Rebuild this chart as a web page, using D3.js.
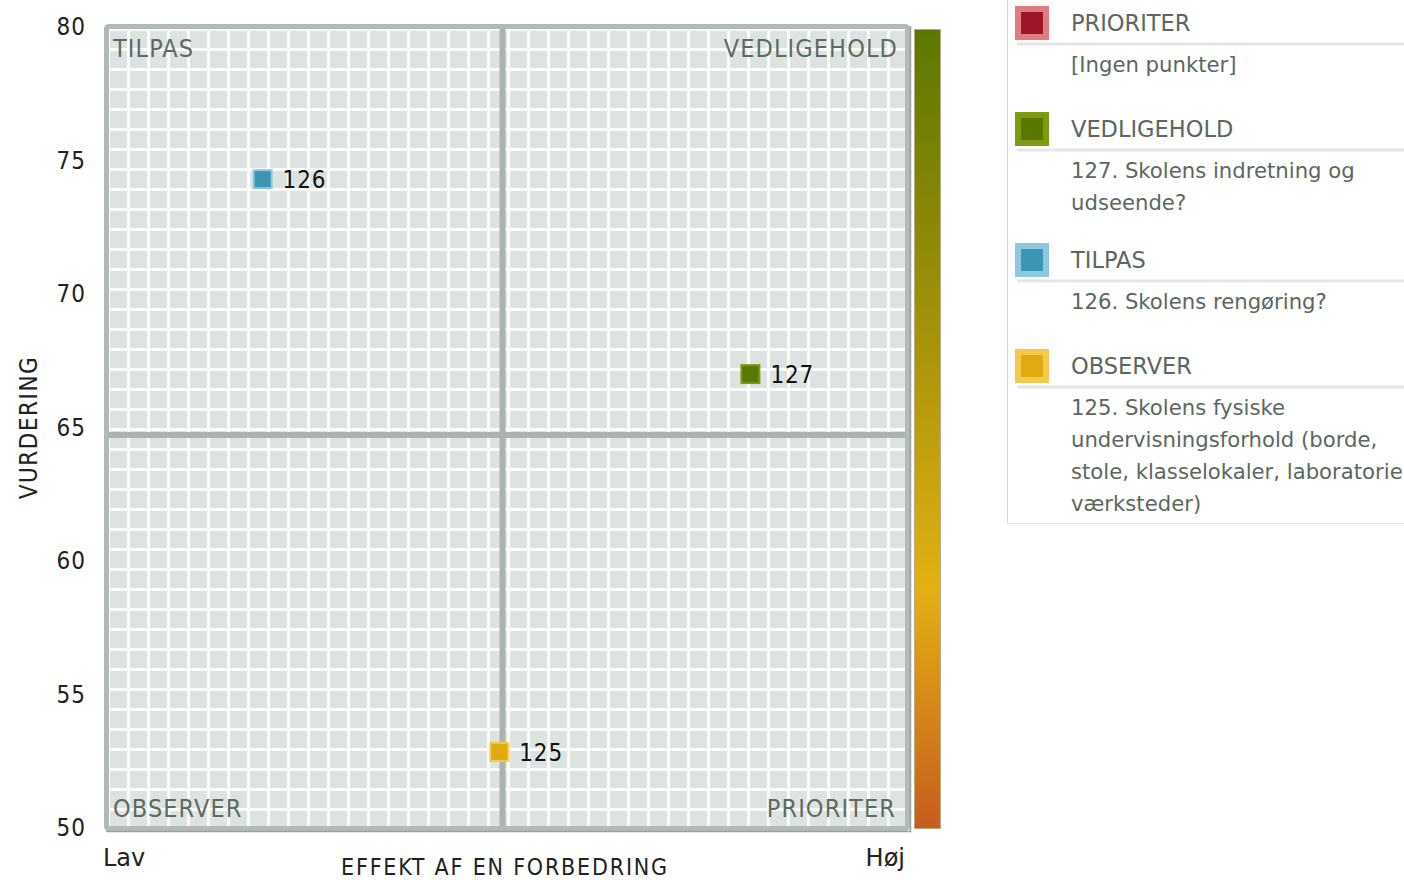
<!DOCTYPE html>
<html lang="da">
<meta charset="UTF-8">
<title>Prioriteringskort</title>
<script src="https://d3js.org/d3.v7.min.js"></script>
<style>
html, body { margin: 0; padding: 0; background: #fff; }
body { width: 1404px; height: 880px; overflow: hidden; }
text { font-family: "DejaVu Sans", Verdana, sans-serif; }
.pix { font-family: "DejaVu Sans Condensed", "DejaVu Sans", sans-serif; font-weight: 200; }
</style>
<body>
<div id="chart"></div>
<script>
// data
var yTicks = [50, 55, 60, 65, 70, 75, 80];
var pointIds = ["125", "126", "127"];
var pointEffekt = [49.1, 19.4, 80.6];
var pointVurdering = [52.85, 74.3, 67.0];
var pointGroup = ["OBSERVER", "TILPAS", "VEDLIGEHOLD"];
var midEffekt = 49.5;
var midVurdering = 64.72;

var groups = ["PRIORITER", "VEDLIGEHOLD", "TILPAS", "OBSERVER"];
var groupFill = ["#9e1428", "#5a7700", "#3d94b3", "#e0aa10"];
var groupEdge = ["#e07c80", "#7d9a12", "#8dc9de", "#f3c94e"];
var groupText = [
  ["[Ingen punkter]"],
  ["127. Skolens indretning og", "udseende?"],
  ["126. Skolens rengøring?"],
  ["125. Skolens fysiske", "undervisningsforhold (borde,", "stole, klasselokaler, laboratorier og", "værksteder)"]
];
var quadLabels = ["TILPAS", "VEDLIGEHOLD", "OBSERVER", "PRIORITER"];

var W = 1404, H = 880;
var svg = d3.select("#chart").append("svg")
  .attr("width", W).attr("height", H);

var x = d3.scaleLinear().domain([0, 100]).range([108, 905]);
var y = d3.scaleLinear().domain([50, 80]).range([828, 27]);

// plot background + grid
var plot = svg.append("g");
plot.append("rect")
  .attr("x", 106).attr("y", 26).attr("width", 802).attr("height", 803)
  .attr("fill", "#dde3e0");

var gx = d3.range(108, 906, 20);
var gy = d3.range(29, 827, 20);
plot.selectAll(".gv").data(gx).enter().append("line")
  .attr("x1", function(d) { return d + 0.5; }).attr("x2", function(d) { return d + 0.5; })
  .attr("y1", 26).attr("y2", 829)
  .attr("stroke", "#fbfcfb").attr("stroke-width", 3);
plot.selectAll(".gh").data(gy).enter().append("line")
  .attr("y1", function(d) { return d + 0.5; }).attr("y2", function(d) { return d + 0.5; })
  .attr("x1", 106).attr("x2", 908)
  .attr("stroke", "#fbfcfb").attr("stroke-width", 3);

// mid lines
plot.append("line")
  .attr("x1", x(midEffekt)).attr("x2", x(midEffekt))
  .attr("y1", 24).attr("y2", 831)
  .attr("stroke", "#abb3af").attr("stroke-width", 6);
plot.append("line")
  .attr("y1", y(midVurdering)).attr("y2", y(midVurdering))
  .attr("x1", 104).attr("x2", 910)
  .attr("stroke", "#abb3af").attr("stroke-width", 6);

// frame
plot.append("rect")
  .attr("x", 106.5).attr("y", 26.5).attr("width", 801).attr("height", 802)
  .attr("rx", 2)
  .attr("fill", "none").attr("stroke", "#b2bab6").attr("stroke-width", 5);
plot.append("line")
  .attr("x1", 106).attr("x2", 911).attr("y1", 831.5).attr("y2", 831.5)
  .attr("stroke", "#9aa29e").attr("stroke-width", 1.5);
plot.append("line")
  .attr("x1", 910.5).attr("x2", 910.5).attr("y1", 26).attr("y2", 832)
  .attr("stroke", "#9aa29e").attr("stroke-width", 1.5);

// quadrant labels
var qpos = [
  {x: 113, y: 57, a: "start"},
  {x: 898, y: 57, a: "end"},
  {x: 113, y: 817, a: "start"},
  {x: 896, y: 817, a: "end"}
];
plot.selectAll(".q").data(quadLabels).enter().append("text")
  .attr("class", "pix")
  .attr("x", function(d, i) { return qpos[i].x; })
  .attr("y", function(d, i) { return qpos[i].y; })
  .attr("text-anchor", function(d, i) { return qpos[i].a; })
  .attr("font-size", 25)
  .attr("letter-spacing", 1.1)
  .attr("fill", "#5d6b63")
  .text(function(d) { return d; });

// colour bar
var grad = svg.append("defs").append("linearGradient")
  .attr("id", "bar").attr("x1", 0).attr("x2", 0).attr("y1", 0).attr("y2", 1);
grad.append("stop").attr("offset", "0%").attr("stop-color", "#5c7700");
grad.append("stop").attr("offset", "40%").attr("stop-color", "#a8940a");
grad.append("stop").attr("offset", "70%").attr("stop-color", "#e3b012");
grad.append("stop").attr("offset", "100%").attr("stop-color", "#c65d1e");
svg.append("rect")
  .attr("x", 914.5).attr("y", 29.5).attr("width", 26).attr("height", 799)
  .attr("fill", "url(#bar)").attr("stroke", "#b9aa82").attr("stroke-width", 1);

// y axis ticks
svg.selectAll(".yt").data(yTicks).enter().append("text")
  .attr("class", "pix")
  .attr("x", 86).attr("y", function(d) { return y(d); })
  .attr("dy", "0.35em")
  .attr("text-anchor", "end")
  .attr("font-size", 24)
  .attr("letter-spacing", 1)
  .attr("fill", "#222")
  .text(function(d) { return d; });

svg.append("text")
  .attr("class", "pix")
  .attr("transform", "translate(37," + y(65) + ") rotate(-90)")
  .attr("text-anchor", "middle")
  .attr("font-size", 24)
  .attr("letter-spacing", 1.5)
  .attr("fill", "#222")
  .text("VURDERING");

svg.append("text")
  .attr("x", 103).attr("y", 866)
  .attr("font-size", 24).attr("fill", "#222")
  .text("Lav");
svg.append("text")
  .attr("x", 905).attr("y", 866).attr("text-anchor", "end")
  .attr("font-size", 24).attr("fill", "#222")
  .text("Høj");
svg.append("text")
  .attr("class", "pix")
  .attr("x", 505).attr("y", 875).attr("text-anchor", "middle")
  .attr("font-size", 23).attr("letter-spacing", 1.8).attr("fill", "#222")
  .text("EFFEKT AF EN FORBEDRING");

// points
var pts = svg.selectAll(".pt").data(pointIds).enter().append("g")
  .attr("transform", function(d, i) {
    return "translate(" + x(pointEffekt[i]) + "," + y(pointVurdering[i]) + ")";
  });
pts.append("rect")
  .attr("x", -9).attr("y", -9).attr("width", 18).attr("height", 18)
  .attr("fill", function(d, i) { return groupFill[groups.indexOf(pointGroup[i])]; })
  .attr("stroke", function(d, i) { return groupEdge[groups.indexOf(pointGroup[i])]; })
  .attr("stroke-width", 2);
pts.append("text")
  .attr("class", "pix")
  .attr("x", 20).attr("dy", "0.36em")
  .attr("font-size", 24).attr("letter-spacing", 0.8).attr("fill", "#111")
  .text(function(d) { return d; });

// legend
var leg = svg.append("g");
leg.append("line")
  .attr("x1", 1007.5).attr("x2", 1007.5).attr("y1", 0).attr("y2", 524)
  .attr("stroke", "#d6d6d6").attr("stroke-width", 1);
leg.append("line")
  .attr("x1", 1007).attr("x2", W).attr("y1", 523.5).attr("y2", 523.5)
  .attr("stroke", "#e4e4e4").attr("stroke-width", 1);

var legTop = [23, 129, 260, 366];
var item = leg.selectAll(".li").data(groups).enter().append("g")
  .attr("transform", function(d, i) { return "translate(0," + legTop[i] + ")"; });
item.append("rect")
  .attr("x", 1015).attr("y", -17).attr("width", 34).attr("height", 34)
  .attr("fill", function(d, i) { return groupEdge[i]; });
item.append("rect")
  .attr("x", 1021).attr("y", -11).attr("width", 22).attr("height", 22)
  .attr("fill", function(d, i) { return groupFill[i]; });
item.append("text")
  .attr("x", 1071).attr("dy", "0.36em")
  .attr("font-size", 22.5).attr("fill", "#5a685f")
  .text(function(d) { return d; });
item.append("line")
  .attr("x1", 1017).attr("x2", W).attr("y1", 21).attr("y2", 21)
  .attr("stroke", "#e5e5e5").attr("stroke-width", 3);
item.each(function(d, i) {
  d3.select(this).selectAll(".dl").data(groupText[i]).enter().append("text")
    .attr("x", 1071).attr("y", function(t, j) { return 41 + j * 32; })
    .attr("dy", "0.36em")
    .attr("font-size", 21.2).attr("fill", "#5a685f")
    .text(function(t) { return t; });
});
</script>
</body>
</html>
